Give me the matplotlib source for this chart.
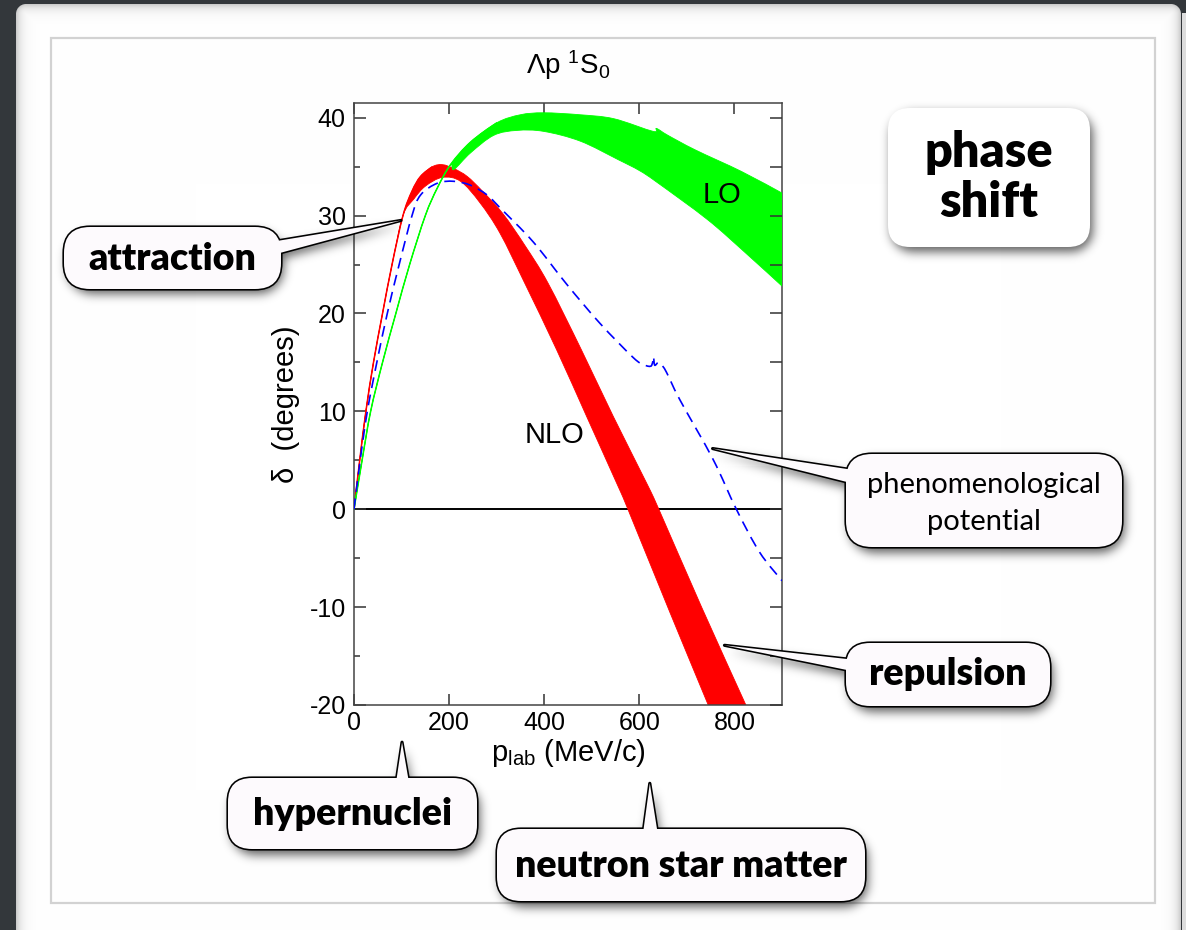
import numpy as np
import matplotlib
matplotlib.use('Agg')
import matplotlib.pyplot as plt
from matplotlib.patches import FancyBboxPatch, Polygon, Rectangle, PathPatch
from matplotlib.path import Path

W, H = 1186, 930

# Lambda-p 1S0 phase shift (degrees) against p_lab (MeV/c)
# LO: one curve at low momenta, opening into a band above ~200 MeV/c
lo_line_p = [0, 17, 35, 60, 88, 117, 150, 175, 203]
lo_line_d = [0, 5, 10, 15, 20, 25, 30, 32.8, 35.2]
lo_upper_p = [203, 245, 301, 350, 399, 475, 546, 629, 636, 660, 718, 815, 900]
lo_upper_d = [35.2, 37.5, 39.5, 40.3, 40.5, 40.3, 39.9, 38.6, 38.9, 38.2, 36.7, 34.5, 32.3]
lo_lower_p = [203, 210, 245, 294, 343, 399, 476, 556, 600, 637, 743, 823, 900]
lo_lower_d = [35.2, 34.7, 36.4, 38.2, 38.7, 38.6, 37.6, 35.7, 34.6, 33.4, 29.6, 26.2, 22.8]

# NLO
nlo_line_p = [0, 12, 25, 41, 60, 80, 103]
nlo_line_d = [0, 5, 10, 15, 20, 25, 30]
nlo_upper_p = [103, 122, 140, 165, 186, 210, 238, 270, 313, 360, 408, 478, 545, 615, 641, 730, 824, 850]
nlo_upper_d = [30, 32.5, 34, 35, 35.2, 34.8, 34, 32.5, 30.2, 26.9, 23.1, 16.3, 9.5, 2.7, 0, -9.9, -20, -22.8]
nlo_lower_p = [103, 126, 150, 186, 224, 265, 307, 359, 426, 489, 552, 576, 664, 744, 770]
nlo_lower_d = [30, 31.7, 33, 33.9, 33.5, 31.3, 28.2, 23.1, 16.3, 9.5, 2.7, 0, -10.5, -19.9, -23]

# phenomenological potential (dashed), with the cusp at the Sigma-N threshold
phen_p = [0, 13, 28, 48, 70, 95, 122, 140, 175, 210, 245, 280, 307, 377, 447, 517, 587,
          608, 620, 626, 629, 630, 631, 633, 640, 646, 657, 685, 755, 804, 853, 900]
phen_d = [0, 5, 10, 15, 20, 25, 30, 32.1, 33.3, 33.5, 33.1, 32.1, 30.8, 27.3, 23.0, 19.0, 15.5,
          14.8, 14.6, 14.7, 15.3, 15.6, 15.0, 14.7, 15.0, 14.8, 14.0, 11.2, 5.1, 0, -4.4, -7.3]

x_ticks = [0, 200, 400, 600, 800]
y_ticks = [-20, -10, 0, 10, 20, 30, 40]
y_minor = [-15, -5, 5, 15, 25, 35]

plt.rcParams['font.family'] = ['Liberation Sans', 'DejaVu Sans']
plt.rcParams['mathtext.fontset'] = 'custom'
plt.rcParams['mathtext.rm'] = 'Liberation Sans'
plt.rcParams['mathtext.it'] = 'Liberation Sans:italic'
plt.rcParams['mathtext.bf'] = 'Liberation Sans:bold'
plt.rcParams['axes.unicode_minus'] = False

fig = plt.figure(figsize=(W / 100, H / 100), dpi=100)

yy, xx = np.mgrid[0:H, 0:W] + 0.5


def rrect_sdf(x0, y0, x1, y1, r):
    cx, cy = (x0 + x1) / 2, (y0 + y1) / 2
    hx, hy = (x1 - x0) / 2 - r, (y1 - y0) / 2 - r
    qx, qy = np.abs(xx - cx) - hx, np.abs(yy - cy) - hy
    outside = np.hypot(np.maximum(qx, 0), np.maximum(qy, 0))
    return outside + np.minimum(np.maximum(qx, qy), 0) - r


def smooth(xs, ys):
    # cubic Bezier pieces running through every point (Catmull-Rom tangents)
    P = np.column_stack([xs, ys]).astype(float)
    n = len(P)
    verts = [P[0]]
    for i in range(n - 1):
        p0 = P[i - 1] if i > 0 else P[i]
        p3 = P[i + 2] if i + 2 < n else P[i + 1]
        verts += [P[i] + (P[i + 1] - p0) / 6, P[i + 1] - (p3 - P[i]) / 6, P[i + 1]]
    codes = [Path.MOVETO] + [Path.CURVE4] * (3 * (n - 1))
    return np.array(verts), codes


def curve(ax, xs, ys, **kw):
    v, c = smooth(xs, ys)
    ax.add_patch(PathPatch(Path(v, c), fill=False, **kw))


def band(ax, up_x, up_y, lo_x, lo_y, color, z):
    vu, cu = smooth(up_x, up_y)
    vl, cl = smooth(lo_x[::-1], lo_y[::-1])
    cl = [Path.LINETO] + cl[1:]
    verts = np.vstack([vu, vl, vu[:1]])
    codes = cu + cl + [Path.CLOSEPOLY]
    ax.add_patch(PathPatch(Path(verts, codes), fc=color, ec=color, lw=0.6, zorder=z))


# slide background
bg = fig.add_axes([0, 0, 1, 1], zorder=0)
sdf = rrect_sdf(16, 5, 1181, H + 40, 10)
inside = np.clip(0.5 - sdf, 0, 1)
shade = 1 - 0.22 * np.exp(np.minimum(sdf, 0) / 5)
dark = np.array([0.20, 0.216, 0.235])
img = dark * (1 - inside[..., None]) + shade[..., None] * inside[..., None]
img[14:, 1182:] = 0.87
bg.imshow(np.clip(img, 0, 1), extent=(0, W, H, 0), aspect='auto', interpolation='nearest')
bg.add_patch(Rectangle((50.5, 38), 1104.5, 865, fill=False, ec='#d2d2d2', lw=1.6))
bg.set_xlim(0, W)
bg.set_ylim(H, 0)
bg.axis('off')

# phase shift plot
ax = fig.add_axes([354 / W, 1 - 705 / H, 428 / W, 602 / H], zorder=1)
ax.axhline(0, color='black', lw=1.4, zorder=1)
band(ax, nlo_line_p + nlo_upper_p[1:], nlo_line_d + nlo_upper_d[1:],
     nlo_line_p + nlo_lower_p[1:], nlo_line_d + nlo_lower_d[1:], '#ff0000', 2)
curve(ax, nlo_line_p + nlo_upper_p[1:4], nlo_line_d + nlo_upper_d[1:4], color='#ff0000', lw=1.1, zorder=2)
band(ax, lo_line_p + lo_upper_p[1:], lo_line_d + lo_upper_d[1:],
     lo_line_p + lo_lower_p[1:], lo_line_d + lo_lower_d[1:], '#00ff00', 3)
curve(ax, lo_line_p + lo_upper_p[1:3], lo_line_d + lo_upper_d[1:3], color='#00ff00', lw=1.1, zorder=3)
curve(ax, phen_p, phen_d, color='#0000ff', lw=1.2, ls=(0, (6.5, 4)), zorder=4)

ax.text(773, 32.1, 'LO', ha='center', va='center', fontsize=21)
ax.text(421, 7.6, 'NLO', ha='center', va='center', fontsize=21)

ax.set_xlim(0, 900)
ax.set_ylim(-20, 41.5)
ax.set_xticks(x_ticks)
ax.set_yticks(y_ticks)
ax.set_yticks(y_minor, minor=True)
ax.tick_params(which='both', direction='in', top=True, right=False, labelsize=18,
               width=1.1, color='#333333')
ax.tick_params(axis='y', which='major', length=8.5, pad=6)
ax.tick_params(axis='y', which='minor', length=4.3)
ax.tick_params(axis='x', which='major', length=7.9, pad=4)
for s in ax.spines.values():
    s.set_color('#444444')
    s.set_linewidth(1.1)

ax2 = ax.twinx()
ax2.set_ylim(ax.get_ylim())
ax2.set_yticks(y_ticks + y_minor)
ax2.tick_params(direction='in', length=8.5, width=1.1, color='#333333', labelright=False)
for s in ax2.spines.values():
    s.set_visible(False)

ax.set_xlabel(r'p$_{\mathrm{lab}}$ (MeV/c)', fontsize=21, labelpad=2)
ax.set_ylabel('δ  (degrees)', fontsize=21, labelpad=7)
fig.text(568 / W, 1 - 65 / H, 'Λp $^{1}$S$_{0}$', ha='center', va='center', fontsize=20)

# speech-bubble callouts
callouts = [
    dict(lines=[('attraction', 270)], box=(64, 227, 281, 289), r=26,
         tip=(98.7, 29.5), root=[(278.6, 240.7), (282.4, 252.3)], size=27, weight='heavy'),
    dict(lines=[('hypernuclei', 825)], box=(228, 778, 477, 849), r=24,
         tip=(101, -23.8), root=[(396.7, 778), (408.2, 778)], size=27, weight='heavy'),
    dict(lines=[('neutron star matter', 877)], box=(497, 829, 865, 901), r=24,
         tip=(622, -28.0), root=[(643.6, 829), (657, 829)], size=27, weight='heavy'),
    dict(lines=[('phenomenological', 493), ('potential', 530)], box=(846, 454, 1122, 547), r=26,
         tip=(754, 6.2), root=[(847, 469), (847, 482)], size=21, weight='normal'),
    dict(lines=[('repulsion', 685)], box=(846, 643, 1050, 706), r=24,
         tip=(779, -13.9), root=[(847, 659), (847, 670)], size=27, weight='heavy'),
    dict(lines=[('phase', 167), ('shift', 217)], box=(888, 108, 1090, 247), r=22,
         tip=None, root=None, size=35, weight='heavy', border=False),
]


def to_px(p, d):
    x, y = ax.transData.transform((p, d))
    return x, H - y


def tail_points(c):
    tx, ty = to_px(*c['tip'])
    pts = [(tx, ty)]
    for rx, ry in c['root']:
        dx, dy = rx - tx, ry - ty
        n = np.hypot(dx, dy)
        pts.append((rx + 12 * dx / n, ry + 12 * dy / n))
    return pts


# blurred drop shadow below the bubbles
off_x, off_y = 3, 6
mask = np.zeros((H, W))
grid = np.c_[xx.ravel(), yy.ravel()]
for c in callouts:
    x0, y0, x1, y1 = c['box']
    m = np.clip(0.5 - rrect_sdf(x0 + off_x, y0 + off_y, x1 + off_x, y1 + off_y, c['r']), 0, 1)
    mask = np.maximum(mask, m)
    if c['tip'] is not None:
        tri = [(px + off_x, py + off_y) for px, py in tail_points(c)]
        inside_tri = Path(tri).contains_points(grid).reshape(H, W)
        mask = np.maximum(mask, inside_tri.astype(float))
sig = 5.0
k = np.exp(-0.5 * (np.arange(-16, 17) / sig) ** 2)
k /= k.sum()
mask = np.apply_along_axis(lambda v: np.convolve(v, k, mode='same'), 0, mask)
mask = np.apply_along_axis(lambda v: np.convolve(v, k, mode='same'), 1, mask)
shadow = np.zeros((H, W, 4))
shadow[..., 3] = np.clip(mask, 0, 1) * 0.62

ov = fig.add_axes([0, 0, 1, 1], zorder=3)
ov.patch.set_alpha(0)
ov.imshow(shadow, extent=(0, W, H, 0), aspect='auto', interpolation='nearest', zorder=0)
ov.set_xlim(0, W)
ov.set_ylim(H, 0)
ov.axis('off')

fill = '#fdfafd'
for c in callouts:
    x0, y0, x1, y1 = c['box']
    style = 'round,pad=0,rounding_size=%d' % c['r']
    if c.get('border', True):
        ov.add_patch(FancyBboxPatch((x0, y0), x1 - x0, y1 - y0, boxstyle=style,
                                    fc=fill, ec='black', lw=2.3, zorder=1))
        ov.add_patch(Polygon(tail_points(c), closed=True, fc=fill, ec='black', lw=2.3,
                             joinstyle='round', zorder=1))
        ov.add_patch(FancyBboxPatch((x0, y0), x1 - x0, y1 - y0, boxstyle=style,
                                    fc=fill, ec='none', zorder=2))
        ov.add_patch(Polygon(tail_points(c), closed=True, fc=fill, ec='none', zorder=2))
    else:
        ov.add_patch(FancyBboxPatch((x0, y0), x1 - x0, y1 - y0, boxstyle=style,
                                    fc='white', ec='none', zorder=2))
    cx = (x0 + x1) / 2
    for txt, base in c['lines']:
        ov.text(cx, base, txt, ha='center', va='baseline', fontsize=c['size'],
                fontweight=c['weight'], family=['Lato', 'DejaVu Sans'], zorder=3)

fig.savefig('out.png', dpi=100)
